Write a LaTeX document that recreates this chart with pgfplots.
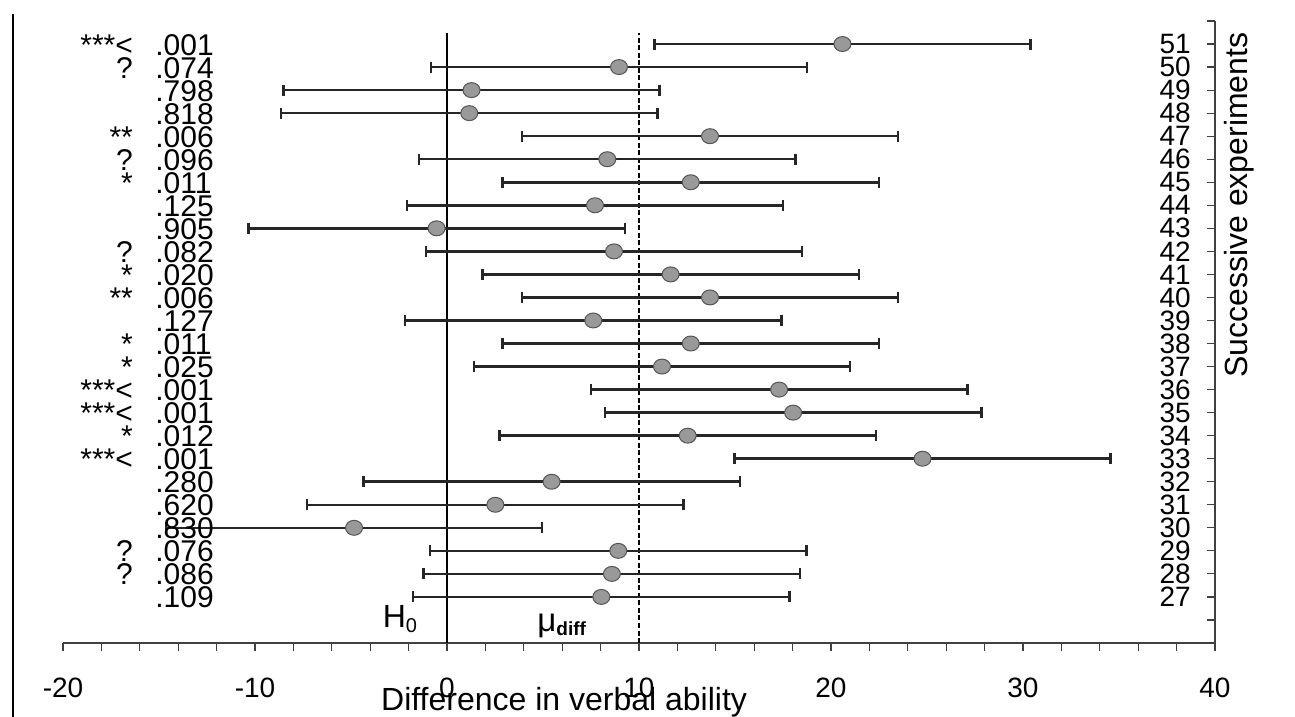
\documentclass[border=0pt]{standalone}
\usepackage{fontspec}
\setmainfont{Liberation Sans}
\usepackage{pgfplots}
\pgfplotsset{compat=1.18}
\usepackage{pgfplotstable}
\definecolor{markfill}{RGB}{153,153,153}
\definecolor{markdraw}{RGB}{85,85,85}
\newcommand\f{\fontsize{28}{30}\selectfont}
\newcommand\fp{\fontsize{30}{30}\selectfont}
\newcommand\ft{\fontsize{32}{34}\selectfont}
\newcommand\pv[3]{%
  \node[anchor=base west, yshift=-11pt, font=\fp, inner sep=0pt] at (axis cs:-15.2,#1) {#3};
  \node[anchor=base east, yshift=-11pt, font=\fp, inner sep=0pt] at (axis cs:-16.35,#1) {#2};}

\pgfplotstableread{
exp mean err
51 20.60 9.8
50 8.96 9.8
49 1.28 9.8
48 1.16 9.8
47 13.70 9.8
46 8.35 9.8
45 12.70 9.8
44 7.71 9.8
43 -0.54 9.8
42 8.70 9.8
41 11.65 9.8
40 13.70 9.8
39 7.62 9.8
38 12.70 9.8
37 11.20 9.8
36 17.30 9.8
35 18.03 9.8
34 12.54 9.8
33 24.77 9.8
32 5.45 9.8
31 2.52 9.8
30 -4.84 9.8
29 8.92 9.8
28 8.59 9.8
27 8.04 9.8
}\data

\begin{document}
\begin{tikzpicture}
\path[use as bounding box] (-63pt,-74pt) rectangle (1232pt,643pt);
\begin{axis}[
  at={(0pt,0pt)}, anchor=south west,
  scale only axis, width=1152pt, height=622pt,
  xmin=-20, xmax=40, ymin=25, ymax=52,
  axis x line*=bottom, axis y line*=right,
  axis line style={line width=1.2pt, black!75},
  xtick={-20,-10,...,40}, minor xtick={-18,-16,...,38},
  ytick={27,...,51}, extra y ticks={25,26,52}, extra y tick labels={},
  tick align=outside,
  major tick length=8pt, minor tick length=8pt,
  tick style={line width=1.2pt, black!75},
  y tick style={xshift=-8pt},
  /pgf/number format/assume math mode=true,
  ticklabel style={font=\f, inner sep=0pt},
  xticklabel style={anchor=base, yshift=-46pt},
  yticklabel style={anchor=east, xshift=-32pt},
  xlabel={Difference in verbal ability},
  xlabel style={font=\ft, at={(axis description cs:0.435,0)}, anchor=base, yshift=-67pt, inner sep=0pt},
  ylabel={Successive experiments},
  ylabel style={font=\ft, at={(axis description cs:1.0286,0.704)}, anchor=base, inner sep=0pt},
  clip=false,
]
\addplot[line width=2pt, black] coordinates {(0,25) (0,51.5)};
\addplot[line width=2.2pt, black, dash pattern=on 5pt off 2.5pt] coordinates {(10,25) (10,51.5)};
\addplot[only marks, mark=*, mark size=8.5pt,
  mark options={fill=markfill, draw=markdraw, line width=1pt, yscale=0.88},
  error bars/.cd, x dir=both, x explicit,
  error bar style={line width=2.5pt, black!85},
  error mark options={line width=2.5pt, mark size=5.5pt, black!85, rotate=90}]
  table[x=mean, y=exp, x error=err] {\data};

\pv{51}{***<}{.001}
\pv{50}{?}{.074}
\pv{49}{}{.798}
\pv{48}{}{.818}
\pv{47}{**}{.006}
\pv{46}{?}{.096}
\pv{45}{*}{.011}
\pv{44}{}{.125}
\pv{43}{}{.905}
\pv{42}{?}{.082}
\pv{41}{*}{.020}
\pv{40}{**}{.006}
\pv{39}{}{.127}
\pv{38}{*}{.011}
\pv{37}{*}{.025}
\pv{36}{***<}{.001}
\pv{35}{***<}{.001}
\pv{34}{*}{.012}
\pv{33}{***<}{.001}
\pv{32}{}{.280}
\pv{31}{}{.620}
\pv{30}{}{.830}
\pv{29}{?}{.076}
\pv{28}{?}{.086}
\pv{27}{}{.109}
\node[anchor=base west, inner sep=0pt] at (axis cs:-3.35,25) [yshift=16pt] {\fontsize{32}{32}\selectfont H\raisebox{-5pt}{\fontsize{20}{20}\selectfont 0}};
\node[anchor=base west, inner sep=0pt] at (axis cs:4.7,25) [yshift=12pt] {\fontsize{33}{33}\selectfont μ\raisebox{-4pt}{\fontsize{19}{19}\selectfont\bfseries diff}};
\end{axis}
\draw[line width=2pt, black] (-50pt,-74pt) -- (-50pt,629pt);
\end{tikzpicture}
\end{document}
